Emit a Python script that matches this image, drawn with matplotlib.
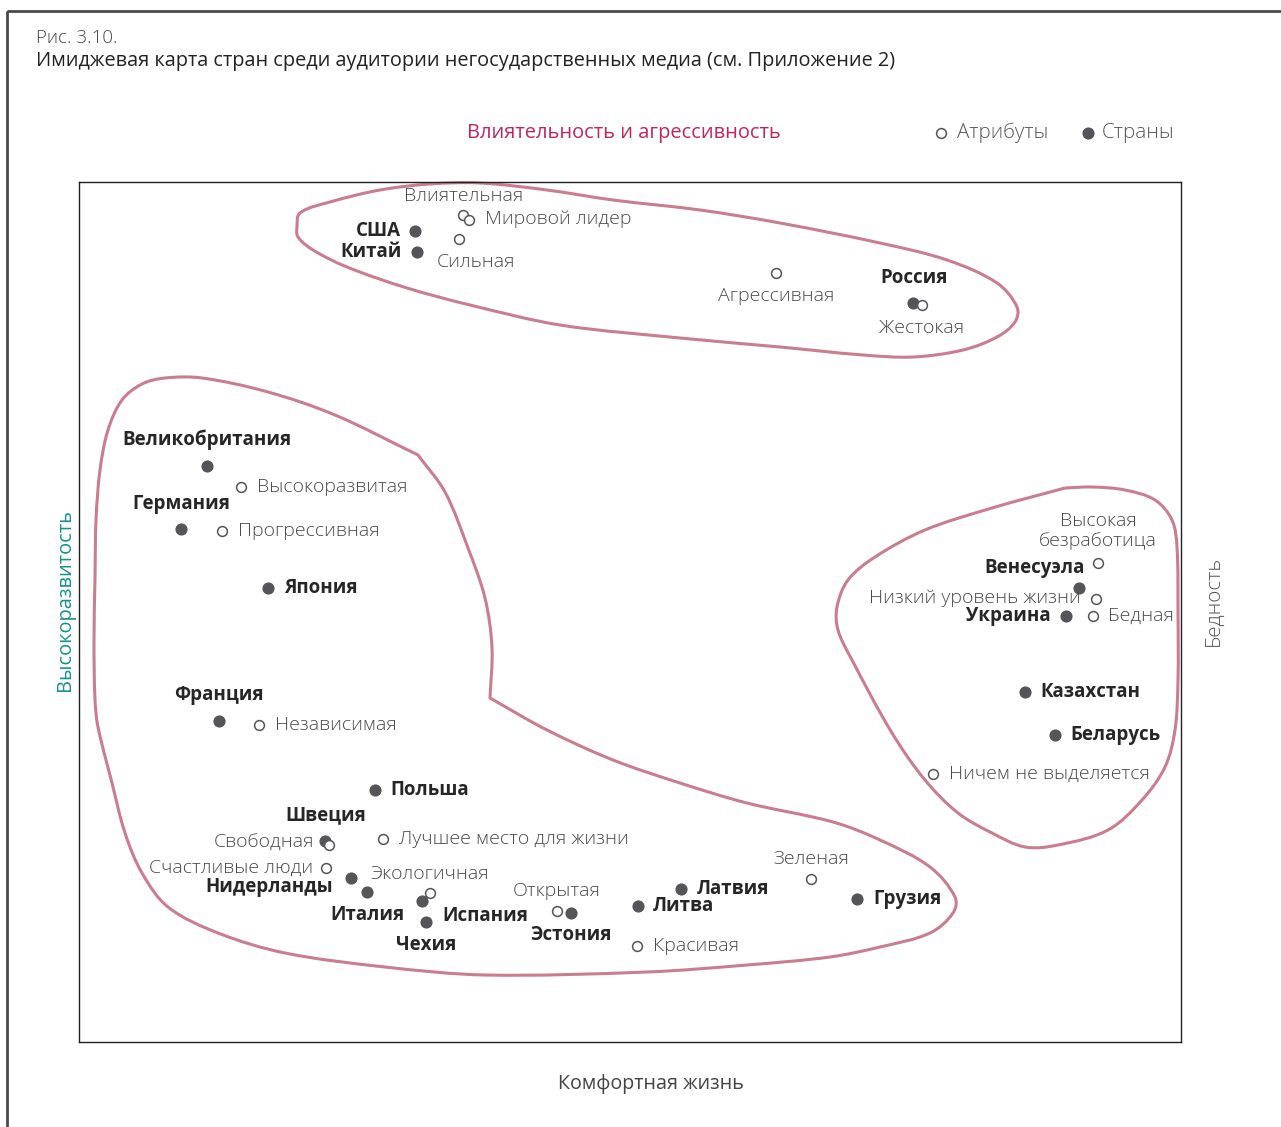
import numpy as np
import matplotlib.pyplot as plt
from matplotlib.path import Path
from matplotlib.patches import PathPatch, Rectangle

plt.rcParams['font.family'] = ['Open Sans', 'DejaVu Sans']

# координаты сняты с картинки в пикселях (x вправо, y вниз)
# страны (закрашенные точки)
country_names = ['США', 'Китай', 'Россия', 'Великобритания', 'Германия', 'Япония',
                 'Франция', 'Польша', 'Швеция', 'Нидерланды', 'Италия', 'Испания',
                 'Чехия', 'Эстония', 'Литва', 'Латвия', 'Грузия', 'Венесуэла',
                 'Украина', 'Казахстан', 'Беларусь']
country_x = [415, 417, 913, 207, 181, 268, 219, 375, 325, 351, 367, 422,
             426, 571, 638, 681, 857, 1079, 1066, 1025, 1055]
country_y = [231, 252, 303, 466, 529, 588, 721, 790, 841, 878, 892, 901,
             922, 913, 906, 889, 899, 588, 616, 692, 735]

# атрибуты (пустые кружки)
attr_names = ['Влиятельная', 'Мировой лидер', 'Сильная', 'Агрессивная', 'Жестокая',
              'Высокоразвитая', 'Прогрессивная', 'Независимая', 'Свободная',
              'Счастливые люди', 'Лучшее место для жизни', 'Экологичная', 'Открытая',
              'Красивая', 'Зеленая', 'Высокая\nбезработица', 'Низкий уровень жизни',
              'Бедная', 'Ничем не выделяется']
attr_x = [463, 469, 459, 776, 922, 241, 222, 259, 329, 326, 383, 430, 557,
          637, 811, 1098, 1096, 1093, 933]
attr_y = [215, 220, 239, 273, 305, 487, 531, 725, 845, 868, 839, 893, 911,
          946, 879, 563, 599, 616, 774]

# контуры групп
top_x = [297, 300, 330, 380, 430, 480, 547, 613, 700, 780, 880, 947, 997, 1017,
         1015, 997, 963, 913, 863, 780, 680, 560, 470, 407, 347, 313, 298]
top_y = [227, 213, 202, 190, 184, 183, 190, 200, 210, 223, 243, 260, 283, 307,
         322, 337, 350, 357, 355, 347, 338, 325, 305, 288, 267, 250, 237]
left_x = [95, 96, 100, 108, 122, 142, 165, 202, 268, 335, 418, 445, 468, 485, 492,
          490, 547, 613, 680, 747, 833, 880, 930, 955, 953, 930, 880, 830,
          747, 647, 485, 385, 285, 218, 168, 142, 125, 112, 98, 95, 94]
left_y = [578, 520, 470, 430, 400, 384, 378, 378, 392, 415, 455, 492, 548, 598, 648,
          698, 730, 760, 783, 803, 822, 840, 867, 897, 913, 933, 947, 957,
          965, 972, 975, 967, 953, 933, 907, 873, 833, 783, 727, 700, 640]
right_x = [1065, 992, 925, 875, 848, 837, 838, 852, 892, 925, 958, 992, 1025,
           1058, 1108, 1142, 1165, 1175, 1178, 1178, 1177, 1172, 1155, 1125, 1092]
right_y = [488, 508, 530, 557, 580, 607, 630, 660, 733, 780, 813, 833, 847,
           845, 830, 800, 767, 730, 680, 613, 547, 520, 500, 490, 487]
# изломы контуров (номера вершин)
top_corners = []
left_corners = [10, 15]
right_corners = [0]

# размещение подписей: (dx, dy, выравнивание)
country_lbl = [(-14, 0, 'right'), (-15, 0, 'right'), (1, -25, 'center'),
               (0, -26, 'center'), (0, -25, 'center'), (16, 0, 'left'),
               (0, -26, 'center'), (15, 0, 'left'), (1, -26, 'center'),
               (-18, 9, 'right'), (0, 23, 'center'), (20, 15, 'left'),
               (0, 23, 'center'), (0, 22, 'center'), (15, 0, 'left'),
               (16, 0, 'left'), (16, 0, 'left'), (6, -20, 'right'),
               (-15, 0, 'right'), (15, 0, 'left'), (15, 0, 'left')]
attr_lbl = [(1, -19, 'center'), (16, -1, 'left'), (17, 23, 'center'),
            (0, 23, 'center'), (0, 23, 'center'), (16, 0, 'left'), (16, 0, 'left'),
            (16, 0, 'left'), (-15, -2, 'right'), (-13, 0, 'right'), (16, 0, 'left'),
            (0, -19, 'center'), (0, -20, 'center'), (16, 0, 'left'),
            (0, -20, 'center'), (0, -32, 'center'), (-15, -1, 'right'),
            (15, 0, 'left'), (16, 0, 'left')]

W, H = 1281, 1127
fig = plt.figure(figsize=(W / 100, H / 100), dpi=100)
ax = fig.add_axes([79 / W, (H - 1042) / H, (1181 - 79) / W, (1042 - 182) / H])
ax.set_xlim(79, 1181)
ax.set_ylim(1042, 182)
ax.set_xticks([])
ax.set_yticks([])
for s in ax.spines.values():
    s.set_linewidth(1.0)
    s.set_color('#222222')


def unit(v):
    return v / (np.hypot(*v) + 1e-9)


def smooth_closed(xs, ys, corners):
    # замкнутая гладкая кривая через точки, в изломах без сглаживания
    p = np.column_stack([xs, ys]).astype(float)
    n = len(p)
    verts = [p[0]]
    codes = [Path.MOVETO]
    for i in range(n):
        p0, p1, p2, p3 = p[i - 1], p[i], p[(i + 1) % n], p[(i + 2) % n]
        L = np.hypot(*(p2 - p1))
        d1 = unit(p2 - p1) if i in corners else unit(p2 - p0)
        d2 = unit(p2 - p1) if (i + 1) % n in corners else unit(p3 - p1)
        verts += [p1 + d1 * L / 3, p2 - d2 * L / 3, p2]
        codes += [Path.CURVE4] * 3
    return Path(verts, codes)


for xs, ys, cs in [(top_x, top_y, top_corners), (left_x, left_y, left_corners),
                   (right_x, right_y, right_corners)]:
    ax.add_patch(PathPatch(smooth_closed(xs, ys, cs), fill=False, ec='#c97d8f',
                           lw=2.2, joinstyle='round', clip_on=False))

ax.scatter(country_x, country_y, s=60, color='#555559', zorder=3, clip_on=False)
ax.scatter(attr_x, attr_y, s=50, facecolor='white', edgecolor='#555559',
           lw=1.1, zorder=4, clip_on=False)

for name, x, y, (dx, dy, ha) in zip(country_names, country_x, country_y, country_lbl):
    ax.text(x + dx, y + dy, name, ha=ha, va='center', fontsize=13.5,
            fontweight='bold', color='#262626')
for name, x, y, (dx, dy, ha) in zip(attr_names, attr_x, attr_y, attr_lbl):
    ax.text(x + dx, y + dy, name, ha=ha, va='center', fontsize=14,
            fontweight='light', color='#4a4a4a', linespacing=1.2)

# заголовки и подписи осей
ax.text(36, 38, 'Рис. 3.10.', ha='left', va='center', fontsize=13.5,
        fontweight='light', color='#444444')
ax.text(36, 61, 'Имиджевая карта стран среди аудитории негосударственных медиа '
        '(см. Приложение 2)', ha='left', va='center', fontsize=14.3,
        fontweight='medium', color='#222222')
ax.text(624, 133, 'Влиятельность и агрессивность', ha='center', va='center',
        fontsize=14.4, color='#c2255e')
ax.text(65, 600, 'Высокоразвитость', ha='center', va='center', rotation=90,
        fontsize=14.4, color='#16918f')
ax.text(1214, 601, 'Бедность', ha='center', va='center', rotation=90,
        fontsize=14.8, fontweight='light', color='#555555')
ax.text(651, 1084, 'Комфортная жизнь', ha='center', va='center',
        fontsize=14.2, color='#444444')

# легенда
ax.scatter([941], [133], s=50, facecolor='white', edgecolor='#555559', lw=1.1,
           clip_on=False)
ax.text(957, 133, 'Атрибуты', ha='left', va='center', fontsize=14.8,
        fontweight='light', color='#555555')
ax.scatter([1088], [133], s=60, color='#555559', clip_on=False)
ax.text(1102, 133, 'Страны', ha='left', va='center', fontsize=14.8,
        fontweight='light', color='#555555')

# внешняя рамка
ax.add_patch(Rectangle((7, 11), 1400, 1200, fill=False, ec='#4a4a4a', lw=2,
                       clip_on=False))

fig.savefig('out.png', dpi=100)
